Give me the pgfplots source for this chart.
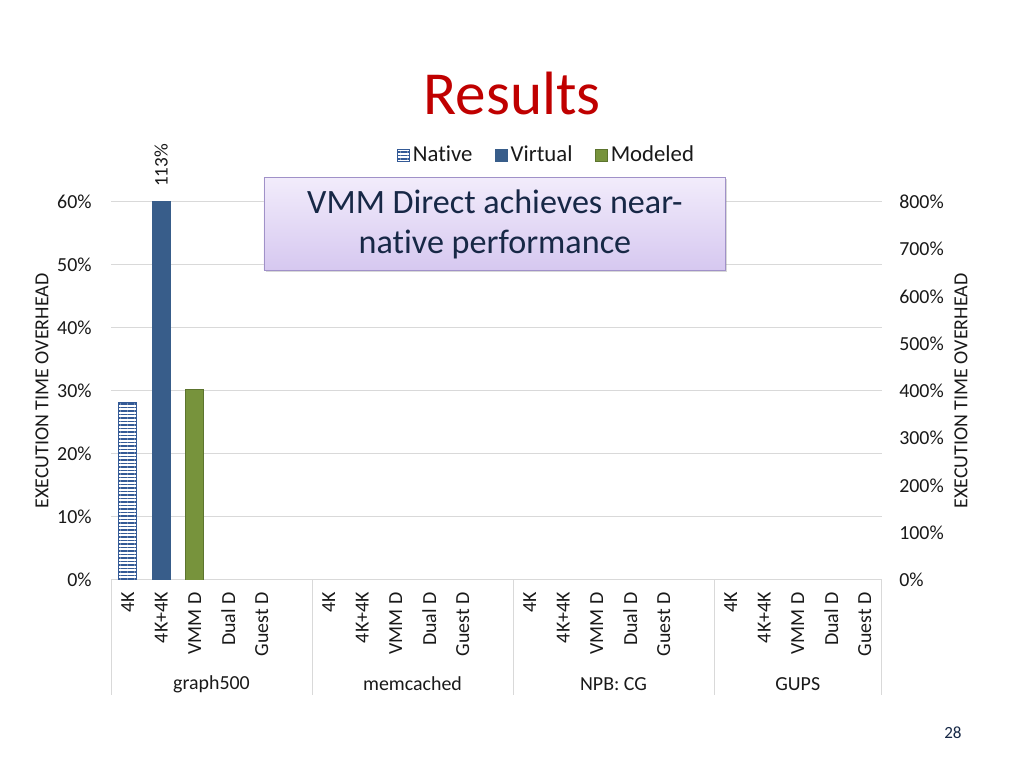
\documentclass[border=0pt]{standalone}
\usepackage{fontspec}
\setmainfont{Carlito}[Ligatures={NoCommon}]
\usepackage{pgfplots}
\pgfplotsset{compat=1.18}
\usetikzlibrary{patterns.meta,shadows}
\definecolor{gridgray}{RGB}{217,217,217}
\definecolor{nativeblue}{RGB}{52,90,150}
\definecolor{virtualblue}{RGB}{56,93,138}
\definecolor{modeled}{RGB}{119,147,60}
\definecolor{modeledborder}{RGB}{92,116,46}
\definecolor{titlered}{RGB}{192,0,0}
\definecolor{calltop}{RGB}{242,236,251}
\definecolor{callbot}{RGB}{214,200,240}
\definecolor{callborder}{RGB}{160,145,200}
\definecolor{navytext}{RGB}{23,40,70}
\definecolor{labeltext}{RGB}{25,25,25}
\begin{document}
\begin{tikzpicture}
\path[use as bounding box] (0,0) rectangle (720pt,540pt);
\fill[white] (0,0) rectangle (720pt,540pt);

\node[anchor=base, text=titlered, font=\fontsize{43}{50}\selectfont] at (360pt,459.8pt) {Results};

\begin{axis}[
  at={(78.05pt,132.19pt)}, anchor=south west,
  scale only axis, width=541.76pt, height=265.78pt,
  xmin=-0.5, xmax=22.5, ymin=0, ymax=60,
  xtick={0,1,2,3,4,6,7,8,9,10,12,13,14,15,16,18,19,20,21,22},
  xticklabels={4K,4K+4K,VMM D,Dual D,Guest D,4K,4K+4K,VMM D,Dual D,Guest D,4K,4K+4K,VMM D,Dual D,Guest D,4K,4K+4K,VMM D,Dual D,Guest D},
  ytick={0,10,20,30,40,50,60},
  yticklabels={0\%,10\%,20\%,30\%,40\%,50\%,60\%},
  ymajorgrids, grid style={draw=gridgray, line width=0.7pt},
  axis line style={draw=none},
  major tick length=0pt,
  xticklabel style={rotate=90, anchor=east, inner sep=0pt, text=labeltext, font=\fontsize{14}{16}\selectfont},
  xticklabel shift=8.4pt,
  yticklabel style={inner sep=0pt, anchor=east, xshift=-13.4pt, text=labeltext, font=\fontsize{14}{16}\selectfont},
  ybar, bar width=12.66pt,
  clip mode=individual,
  legend columns=3,
  legend style={at={(0.566,1.1243)}, anchor=center, draw=none, fill=none,
    font=\fontsize{16}{19}\selectfont, text=labeltext,
    /tikz/every even column/.append style={column sep=14pt},
    nodes={inner sep=2pt}},
  legend image code/.code={\draw[#1,line width=0.5pt] (-1.5pt,-4.2pt) rectangle (6.9pt,4.2pt);},
]
\addplot[bar shift=0pt, draw=nativeblue, line width=0.6pt, fill=white,
  pattern={Lines[angle=0,distance=2.46pt,line width=1.05pt]}, pattern color=nativeblue]
  coordinates {(0,28.2)};
\addlegendentry{Native}
\addplot[bar shift=0pt, draw=virtualblue, line width=0.5pt, fill=virtualblue]
  coordinates {(1,113)};
\addlegendentry{Virtual}
\addplot[bar shift=0pt, draw=modeledborder, line width=0.5pt, fill=modeled]
  coordinates {(2,30.2)};
\addlegendentry{Modeled}

\node[rotate=90, anchor=west, inner sep=0pt, text=labeltext, font=\fontsize{13.5}{16}\selectfont] at ([yshift=10.5pt]axis cs:1,60) {113\%};

\draw[gridgray, line width=0.7pt] (axis cs:-0.5,0) -- ([yshift=-80.9pt]axis cs:-0.5,0);
\draw[gridgray, line width=0.7pt] (axis cs:5.5,0) -- ([yshift=-80.9pt]axis cs:5.5,0);
\draw[gridgray, line width=0.7pt] (axis cs:11.5,0) -- ([yshift=-80.9pt]axis cs:11.5,0);
\draw[gridgray, line width=0.7pt] (axis cs:17.5,0) -- ([yshift=-80.9pt]axis cs:17.5,0);
\draw[gridgray, line width=0.7pt] (axis cs:22.5,0) -- ([yshift=-80.9pt]axis cs:22.5,0);
\node[text=labeltext, font=\fontsize{14}{16}\selectfont] at ([yshift=-73.1pt]axis cs:2.5,0) {graph500};
\node[text=labeltext, font=\fontsize{14}{16}\selectfont] at ([yshift=-73.1pt]axis cs:8.5,0) {memcached};
\node[text=labeltext, font=\fontsize{14}{16}\selectfont] at ([yshift=-73.1pt]axis cs:14.5,0) {NPB: CG};
\node[text=labeltext, font=\fontsize{14}{16}\selectfont] at ([yshift=-73.1pt]axis cs:20,0) {GUPS};
\end{axis}

\begin{axis}[
  at={(78.05pt,132.19pt)}, anchor=south west,
  scale only axis, width=541.76pt, height=265.78pt,
  xmin=-0.5, xmax=22.5, ymin=0, ymax=800,
  axis y line*=right, hide x axis,
  axis line style={draw=none},
  major tick length=0pt,
  ytick={0,100,200,300,400,500,600,700,800},
  yticklabels={0\%,100\%,200\%,300\%,400\%,500\%,600\%,700\%,800\%},
  yticklabel style={inner sep=0pt, anchor=west, xshift=12.3pt, text=labeltext, font=\fontsize{14}{16}\selectfont},
]
\end{axis}

\node[rotate=90, text=labeltext, font=\fontsize{14}{16}\selectfont] at (29.5pt,265.1pt) {EXECUTION TIME OVERHEAD};
\node[rotate=90, text=labeltext, font=\fontsize{14}{16}\selectfont] at (675.7pt,265.1pt) {EXECUTION TIME OVERHEAD};

\shade[drop shadow={shadow xshift=1.2pt, shadow yshift=-1.5pt, opacity=0.3},
  top color=calltop, bottom color=callbot, draw=callborder, line width=0.6pt]
  (185.6pt,350.2pt) rectangle (509.8pt,415.5pt);
\node[align=center, text=navytext, font=\fontsize{24}{28.1}\selectfont] at (348pt,382.5pt)
  {VMM Direct achieves near-\\native performance};

\node[text=navytext, font=\fontsize{12}{14}\selectfont] at (670pt,24.6pt) {28};
\end{tikzpicture}
\end{document}
